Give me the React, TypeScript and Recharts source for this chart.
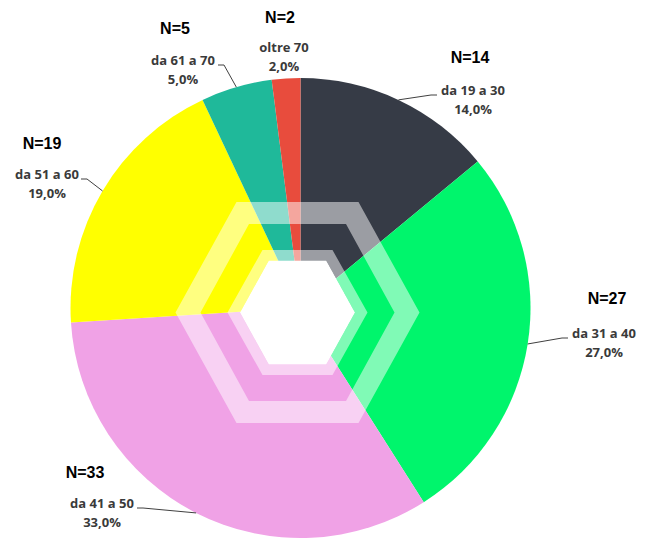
import React from "react";
import { PieChart, Pie, Cell } from "recharts";

const categories = ["da 19 a 30", "da 31 a 40", "da 41 a 50", "da 51 a 60", "da 61 a 70", "oltre 70"];
const counts = [14, 27, 33, 19, 5, 2];
const percentLabels = ["14,0%", "27,0%", "33,0%", "19,0%", "5,0%", "2,0%"];
const nLabels = ["N=14", "N=27", "N=33", "N=19", "N=5", "N=2"];

const colors = ["#363b46", "#00f56c", "#f0a2e6", "#ffff00", "#1fb99a", "#e84c3d"];

// label layout (page positions of label blocks), not data
const labelLayout = [
  { nx: 470, ny: 57, tx: 473, ty: 90, lx: 437, side: "right" },
  { nx: 607, ny: 298, tx: 604, ty: 333, lx: 568, side: "right" },
  { nx: 85, ny: 472, tx: 102, ty: 503, lx: 137, side: "left" },
  { nx: 42, ny: 143, tx: 47, ty: 174, lx: 81, side: "left" },
  { nx: 175, ny: 28, tx: 183, ty: 60, lx: 218, side: "left" },
  { nx: 280, ny: 17, tx: 284, ty: 47, lx: null, side: "none" },
];

const data = categories.map((c, i) => ({ name: c, value: counts[i] }));

const RAD = Math.PI / 180;

const renderLabel = (props: any) => {
  const { cx, cy, midAngle, outerRadius, index } = props;
  const L = labelLayout[index];
  const ax = cx + outerRadius * Math.cos(-midAngle * RAD);
  const ay = cy + outerRadius * Math.sin(-midAngle * RAD);
  let line = null;
  if (L.lx !== null) {
    const ly = L.ty + 5;
    const elbow = L.side === "right" ? L.lx - 6 : L.lx + 6;
    line = (
      <polyline
        points={`${ax},${ay} ${elbow},${ly} ${L.lx},${ly}`}
        fill="none"
        stroke="#404040"
        strokeWidth={1}
      />
    );
  }
  return (
    <g key={`lbl-${index}`}>
      {line}
      <text
        x={L.nx}
        y={L.ny}
        textAnchor="middle"
        dominantBaseline="central"
        fontFamily="'Liberation Sans', Arial, sans-serif"
        fontWeight="bold"
        fontSize={16}
        fill="#000"
      >
        {nLabels[index]}
      </text>
      <text
        x={L.tx}
        y={L.ty}
        textAnchor="middle"
        dominantBaseline="central"
        fontFamily="'Open Sans', sans-serif"
        fontWeight="bold"
        fontSize={13}
        fill="#3a3a3a"
      >
        {categories[index]}
      </text>
      <text
        x={L.tx}
        y={L.ty + 19}
        textAnchor="middle"
        dominantBaseline="central"
        fontFamily="'Open Sans', sans-serif"
        fontWeight="bold"
        fontSize={13}
        fill="#3a3a3a"
      >
        {percentLabels[index]}
      </text>
    </g>
  );
};

const hexPts = (cx: number, cy: number, a: number, b: number) =>
  `M${cx - a},${cy} L${cx - a / 2},${cy - b} L${cx + a / 2},${cy - b} L${cx + a},${cy} L${cx + a / 2},${cy + b} L${cx - a / 2},${cy + b} Z`;

const HexOverlay = () => {
  const hx = 297.5;
  const hy = 312.5;
  return (
    <svg
      width={656}
      height={541}
      style={{ position: "absolute", left: 0, top: 0, pointerEvents: "none" }}
    >
      <path
        d={hexPts(hx, hy, 122, 110.5) + " " + hexPts(hx, hy, 97, 88.5)}
        fill="#ffffff"
        fillOpacity={0.5}
        fillRule="evenodd"
      />
      <path
        d={hexPts(hx, hy, 70, 62.5) + " " + hexPts(hx, hy, 57.5, 52)}
        fill="#ffffff"
        fillOpacity={0.5}
        fillRule="evenodd"
      />
      <path d={hexPts(hx, hy, 57.5, 52)} fill="#ffffff" />
    </svg>
  );
};

export default function App() {
  return (
    <div style={{ position: "absolute", left: 0, top: 0, width: 656, height: 541, background: "#fff" }}>
      <PieChart width={656} height={541} margin={{ top: 0, right: 0, bottom: 0, left: 0 }}>
        <Pie
          data={data}
          dataKey="value"
          nameKey="name"
          cx={300.5}
          cy={308}
          innerRadius={0}
          outerRadius={230}
          startAngle={90}
          endAngle={-270}
          stroke="none"
          label={renderLabel}
          labelLine={false}
          isAnimationActive={false}
        >
          {data.map((d, i) => (
            <Cell key={d.name} fill={colors[i]} />
          ))}
        </Pie>
      </PieChart>
      <HexOverlay />
    </div>
  );
}
